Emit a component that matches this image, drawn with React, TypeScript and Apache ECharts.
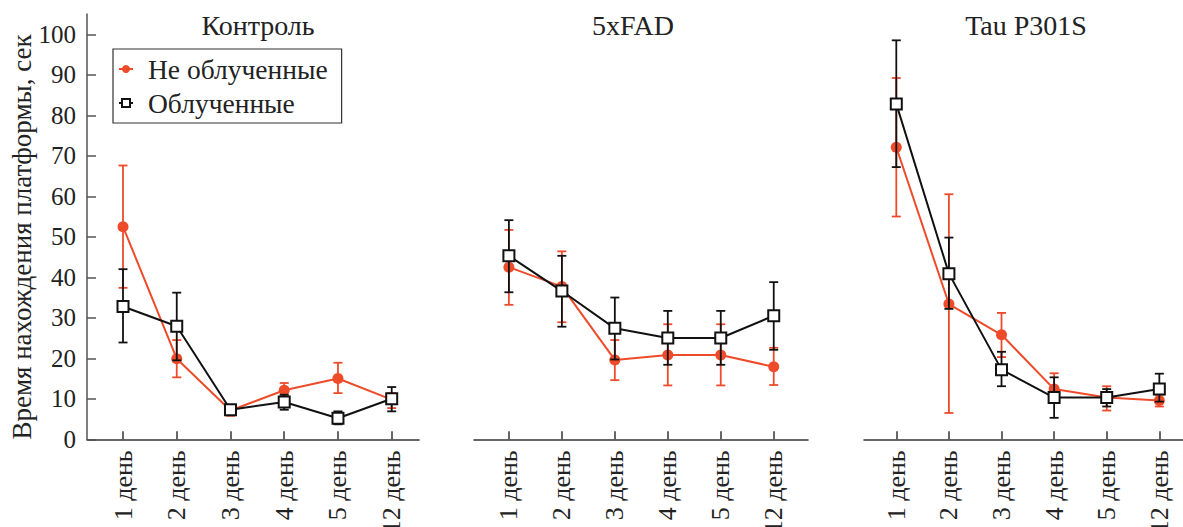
import React, { useEffect, useRef } from "react";
import * as echarts from "echarts";

const categories = ["1 день", "2 день", "3 день", "4 день", "5 день", "12 день"];
const xPositions = [1, 2, 3, 4, 5, 6];
const yTicks = [0, 10, 20, 30, 40, 50, 60, 70, 80, 90, 100];
const panelTitles = ["Контроль", "5xFAD", "Tau P301S"];
const seriesNames = ["Не облученные", "Облученные"];

// Контроль
const controlNon = [52.5, 19.9, 7.1, 12.1, 15.0, 9.8];
const controlNonLo = [37.4, 15.3, 5.8, 10.6, 11.4, 7.7];
const controlNonHi = [67.6, 24.5, 8.0, 13.9, 18.9, 11.4];
const controlIrr = [32.8, 27.9, 7.3, 9.2, 5.2, 10.0];
const controlIrrLo = [23.9, 19.5, 6.5, 7.3, 3.7, 6.9];
const controlIrrHi = [42.0, 36.2, 8.2, 11.0, 6.9, 12.9];

// 5xFAD
const fadNon = [42.5, 37.7, 19.6, 20.8, 20.8, 17.9];
const fadNonLo = [33.2, 28.9, 14.6, 13.3, 13.3, 13.4];
const fadNonHi = [51.7, 46.4, 24.5, 28.4, 28.4, 22.6];
const fadIrr = [45.3, 36.6, 27.4, 25.0, 25.0, 30.5];
const fadIrrLo = [36.3, 27.8, 19.7, 18.4, 18.4, 22.1];
const fadIrrHi = [54.1, 45.3, 35.0, 31.7, 31.7, 38.8];

// Tau P301S
const tauNon = [72.1, 33.4, 25.8, 12.4, 10.3, 9.6];
const tauNonLo = [55.0, 6.5, 20.3, 9.4, 7.1, 8.1];
const tauNonHi = [89.2, 60.5, 31.2, 16.3, 13.1, 11.0];
const tauIrr = [82.8, 40.9, 17.2, 10.3, 10.3, 12.4];
const tauIrrLo = [67.2, 32.2, 13.1, 5.3, 8.1, 9.3];
const tauIrrHi = [98.5, 49.8, 21.6, 15.3, 12.4, 16.2];

const panels = [
  { non: controlNon, nonLo: controlNonLo, nonHi: controlNonHi, irr: controlIrr, irrLo: controlIrrLo, irrHi: controlIrrHi },
  { non: fadNon, nonLo: fadNonLo, nonHi: fadNonHi, irr: fadIrr, irrLo: fadIrrLo, irrHi: fadIrrHi },
  { non: tauNon, nonLo: tauNonLo, nonHi: tauNonHi, irr: tauIrr, irrLo: tauIrrLo, irrHi: tauIrrHi },
];

const FONT = "'Liberation Serif', 'DejaVu Serif', serif";
const RED = "#EE4B2B";
const BLACK = "#111111";
const AXIS = "#333333";
const TEXT = "#222222";

// layout of the three panels
const gridLayout = [
  { left: 87, width: 332, xmin: 0.33, xmax: 6.508, titleX: 258 },
  { left: 474, width: 334, xmin: 0.341, xmax: 6.647, titleX: 633 },
  { left: 864, width: 319, xmin: 0.386, xmax: 6.45, titleX: 1026 },
];
const GRID_TOP = 14;
const GRID_BOTTOM_Y = 439.3;

function errorRender(color: string) {
  return (params: any, api: any) => {
    const x = api.value(0);
    const lo = api.value(1);
    const hi = api.value(2);
    const p1 = api.coord([x, lo]);
    const p2 = api.coord([x, hi]);
    const w = 4.5;
    const style = { stroke: color, lineWidth: 1.8 };
    return {
      type: "group",
      children: [
        { type: "line", shape: { x1: p1[0], y1: p1[1], x2: p2[0], y2: p2[1] }, style },
        { type: "line", shape: { x1: p1[0] - w, y1: p1[1], x2: p1[0] + w, y2: p1[1] }, style },
        { type: "line", shape: { x1: p2[0] - w, y1: p2[1], x2: p2[0] + w, y2: p2[1] }, style },
      ],
    };
  };
}

export default function App() {
  const ref = useRef<HTMLDivElement>(null);

  useEffect(() => {
    document.body.style.margin = "0";
    if (!ref.current) return;
    const chart = echarts.init(ref.current, null, { renderer: "svg" });

    const grids = gridLayout.map((g) => ({
      left: g.left,
      top: GRID_TOP,
      width: g.width,
      height: GRID_BOTTOM_Y - GRID_TOP,
      containLabel: false,
      outerBoundsMode: "none",
    }));

    const xAxes = gridLayout.map((g, i) => ({
      type: "value",
      gridIndex: i,
      min: g.xmin,
      max: g.xmax,
      splitLine: { show: false },
      axisLine: { show: true, onZero: false, lineStyle: { color: AXIS, width: 1.5 } },
      axisTick: { show: true, inside: true, length: 8, customValues: xPositions, lineStyle: { color: AXIS, width: 1.5 } },
      axisLabel: {
        show: true,
        customValues: xPositions,
        rotate: 90,
        margin: 11,
        fontSize: 26,
        fontFamily: FONT,
        color: TEXT,
        formatter: (v: number) => categories[Math.round(v) - 1] ?? "",
      },
    }));

    const yAxes = gridLayout.map((g, i) => ({
      type: "value",
      gridIndex: i,
      min: 0,
      max: 105,
      splitLine: { show: false },
      axisLine: { show: i === 0, lineStyle: { color: "#555555", width: 1.5 } },
      axisTick: { show: i === 0, inside: true, length: 9, customValues: yTicks, lineStyle: { color: "#555555", width: 1.5 } },
      axisLabel: {
        show: i === 0,
        customValues: yTicks,
        margin: 11,
        fontSize: 25,
        fontFamily: FONT,
        color: TEXT,
      },
    }));

    const series: any[] = [];
    panels.forEach((p, i) => {
      series.push({
        type: "custom",
        name: "err-non-" + i,
        xAxisIndex: i,
        yAxisIndex: i,
        renderItem: errorRender(RED),
        encode: { x: 0, y: [1, 2] },
        data: xPositions.map((x, k) => [x, p.nonLo[k], p.nonHi[k]]),
        z: 1,
        silent: true,
      });
      series.push({
        type: "line",
        name: seriesNames[0],
        xAxisIndex: i,
        yAxisIndex: i,
        data: xPositions.map((x, k) => [x, p.non[k]]),
        symbol: "circle",
        symbolSize: 11,
        lineStyle: { color: RED, width: 2 },
        itemStyle: { color: RED, borderWidth: 0 },
        z: 2,
      });
      series.push({
        type: "custom",
        name: "err-irr-" + i,
        xAxisIndex: i,
        yAxisIndex: i,
        renderItem: errorRender(BLACK),
        encode: { x: 0, y: [1, 2] },
        data: xPositions.map((x, k) => [x, p.irrLo[k], p.irrHi[k]]),
        z: 3,
        silent: true,
      });
      series.push({
        type: "line",
        name: seriesNames[1],
        xAxisIndex: i,
        yAxisIndex: i,
        data: xPositions.map((x, k) => [x, p.irr[k]]),
        symbol: "rect",
        symbolSize: 11,
        lineStyle: { color: BLACK, width: 2 },
        itemStyle: { color: "#ffffff", borderColor: BLACK, borderWidth: 2 },
        z: 4,
      });
    });

    const option: any = {
      animation: false,
      backgroundColor: "#ffffff",
      title: gridLayout.map((g, i) => ({
        text: panelTitles[i],
        left: g.titleX,
        top: 11,
        padding: 0,
        textAlign: "center",
        textStyle: { fontSize: 28, fontWeight: "normal", fontFamily: FONT, color: TEXT },
      })),
      legend: {
        data: [
          { name: seriesNames[0] },
          { name: seriesNames[1] },
        ],
        orient: "vertical",
        left: 113,
        top: 49,
        padding: [6, 14, 6, 5],
        itemGap: 6,
        itemWidth: 14,
        itemHeight: 10,
        borderColor: "#333333",
        borderWidth: 1.2,
        borderRadius: 0,
        textStyle: { fontSize: 27.5, fontFamily: FONT, color: TEXT, padding: [0, 0, 0, 10] },
      },
      grid: grids,
      xAxis: xAxes,
      yAxis: yAxes,
      graphic: [
        {
          type: "text",
          x: 22,
          y: 237,
          rotation: Math.PI / 2,
          style: {
            text: "Время нахождения платформы, сек",
            fontSize: 27,
            fontFamily: FONT,
            fill: TEXT,
            align: "center",
            verticalAlign: "middle",
          },
        },
      ],
      series,
    };

    chart.setOption(option);
    return () => chart.dispose();
  }, []);

  return <div ref={ref} style={{ width: 1183, height: 527 }} />;
}
